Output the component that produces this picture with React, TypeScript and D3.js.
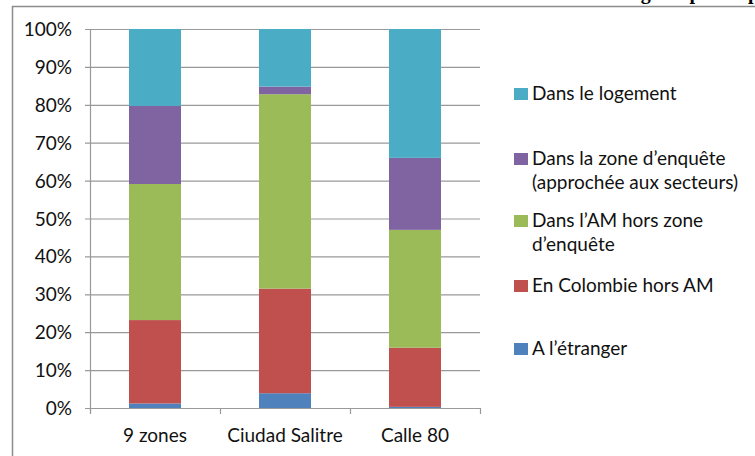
import React, { useEffect, useRef } from "react";
import * as d3 from "d3";

const categories = ["9 zones", "Ciudad Salitre", "Calle 80"];
const etranger = [1.2, 3.9, 0.3];
const colombie = [22.0, 27.6, 15.6];
const horsZone = [35.9, 51.3, 31.1];
const zone = [20.6, 2.0, 19.0];
const logement = [20.3, 15.2, 34.0];
const yTicks = [0, 10, 20, 30, 40, 50, 60, 70, 80, 90, 100];
const colors = ["#4F81BD", "#C0504D", "#9BBB59", "#8064A2", "#4BACC6"];

// legend entries, top to bottom (key = series index)
const legendLines = [
  { key: 4, lines: ["Dans le logement"] },
  { key: 3, lines: ["Dans la zone d\u2019enquête", "(approchée aux secteurs)"] },
  { key: 2, lines: ["Dans l\u2019AM hors zone", "d\u2019enquête"] },
  { key: 1, lines: ["En Colombie hors AM"] },
  { key: 0, lines: ["A l\u2019étranger"] },
];

// heading of the page, cut off above the frame
const heading = "Résidence antérieure selon l\u2019âge de pointe p";

const W = 755;
const H = 456;

export default function App() {
  const ref = useRef<SVGSVGElement>(null);

  useEffect(() => {
    const svg = d3.select(ref.current);
    svg.selectAll("*").remove();

    const font = "Lato, 'Open Sans', sans-serif";
    const fs = 19;
    const left = 90, right = 480, top = 29, bottom = 408;

    // outer frame (partly outside the picture)
    svg
      .append("rect")
      .attr("x", 12.5)
      .attr("y", 6.5)
      .attr("width", 800)
      .attr("height", 500)
      .attr("fill", "white")
      .attr("stroke", "#8c8c8c")
      .attr("stroke-width", 1.5);

    svg
      .append("text")
      .attr("x", 759)
      .attr("y", -1)
      .attr("text-anchor", "end")
      .attr("font-family", "'Liberation Serif', serif")
      .attr("font-weight", "bold")
      .attr("font-size", 20)
      .text(heading);

    const rows = categories.map((c, i) => ({
      cat: c,
      s0: etranger[i],
      s1: colombie[i],
      s2: horsZone[i],
      s3: zone[i],
      s4: logement[i],
    }));
    const stacked = d3.stack<any>().keys(["s0", "s1", "s2", "s3", "s4"])(rows);

    const x = d3.scaleBand().domain(categories).range([left, right]);
    const y = d3.scaleLinear().domain([0, 100]).range([bottom, top]);
    const barW = 52;

    // gridlines
    svg
      .append("g")
      .selectAll("line")
      .data(yTicks)
      .join("line")
      .attr("x1", left - 5)
      .attr("x2", right)
      .attr("y1", (d) => y(d) + 0.5)
      .attr("y2", (d) => y(d) + 0.5)
      .attr("stroke", "#999")
      .attr("stroke-width", 1.2);

    // bars
    svg
      .append("g")
      .selectAll("g")
      .data(stacked)
      .join("g")
      .attr("fill", (_d, i) => colors[i])
      .selectAll("rect")
      .data((d) => d)
      .join("rect")
      .attr("x", (d) => x(d.data.cat)! + x.bandwidth() / 2 - barW / 2)
      .attr("width", barW)
      .attr("y", (d) => y(d[1]))
      .attr("height", (d) => y(d[0]) - y(d[1]));

    // y axis line
    svg
      .append("line")
      .attr("x1", left + 0.5)
      .attr("x2", left + 0.5)
      .attr("y1", top)
      .attr("y2", bottom + 5)
      .attr("stroke", "#999")
      .attr("stroke-width", 1.2);

    // x tick marks
    const xTickPos = [left, ...categories.map((c) => x(c)! + x.bandwidth())];
    svg
      .append("g")
      .selectAll("line")
      .data(xTickPos)
      .join("line")
      .attr("x1", (d) => d + 0.5)
      .attr("x2", (d) => d + 0.5)
      .attr("y1", bottom)
      .attr("y2", bottom + 6)
      .attr("stroke", "#999")
      .attr("stroke-width", 1.2);

    // y labels
    svg
      .append("g")
      .selectAll("text")
      .data(yTicks)
      .join("text")
      .attr("x", 72)
      .attr("y", (d) => y(d) + 7)
      .attr("text-anchor", "end")
      .attr("font-family", font)
      .attr("font-size", fs)
      .attr("fill", "#111")
      .text((d) => `${d}%`);

    // x labels
    svg
      .append("g")
      .selectAll("text")
      .data(categories)
      .join("text")
      .attr("x", (d) => x(d)! + x.bandwidth() / 2)
      .attr("y", 442)
      .attr("text-anchor", "middle")
      .attr("font-family", font)
      .attr("font-size", fs)
      .attr("fill", "#111")
      .text((d) => d);

    // legend
    const legendY = [100, 165, 227, 292, 355]; // baselines
    const lg = svg
      .append("g")
      .selectAll("g")
      .data(legendLines)
      .join("g")
      .attr("transform", (_d, i) => `translate(514,${legendY[i]})`);
    lg.append("rect")
      .attr("x", 0)
      .attr("y", -12)
      .attr("width", 14)
      .attr("height", 12)
      .attr("fill", (d) => colors[d.key]);
    lg.each(function (d) {
      d3.select(this)
        .selectAll("text")
        .data(d.lines)
        .join("text")
        .attr("x", 18)
        .attr("y", (_t, j) => j * 24)
        .attr("font-family", font)
        .attr("font-size", fs)
        .attr("fill", "#111")
        .text((t) => t);
    });
  }, []);

  return (
    <svg
      ref={ref}
      width={W}
      height={H}
      style={{ position: "absolute", left: 0, top: 0, background: "white" }}
    />
  );
}
